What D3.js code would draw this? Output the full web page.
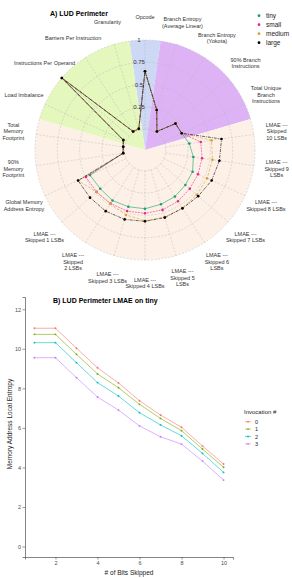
<!DOCTYPE html>
<html>
<head>
<meta charset="utf-8">
<script src="https://cdn.jsdelivr.net/npm/d3@7"></script>
<style>
  body { margin: 0; background: #fff; }
  svg { display: block; font-family: "Liberation Sans", Arial, sans-serif; }
</style>
</head>
<body>
<script>
/////////////////////////////// data: A) radar
const axes = [
  "Opcode", "Branch Entropy\n(Average Linear)", "Branch Entropy\n(Yokota)",
  "90% Branch\nInstructions", "Total Unique\nBranch\nInstructions",
  "LMAE ---\nSkipped\n10 LSBs", "LMAE ---\nSkipped 9\nLSBs", "LMAE ---\nSkipped 8 LSBs",
  "LMAE ---\nSkipped 7 LSBs", "LMAE ---\nSkipped 6\nLSBs", "LMAE ---\nSkipped 5\nLSBs",
  "LMAE ---\nSkipped 4 LSBs", "LMAE ---\nSkipped 3 LSBs", "LMAE ---\nSkipped\n2 LSBs",
  "LMAE ---\nSkipped 1 LSBs", "Global Memory\nAddress Entropy", "90%\nMemory\nFootprint",
  "Total\nMemory\nFootprint", "Load Imbalance", "Instructions Per Operand",
  "Barriers Per Instruction", "Granularity"
];
// which coloured sector each axis belongs to
const axisGroup = [
  "compute", "control", "control", "control", "control",
  "memory", "memory", "memory", "memory", "memory", "memory", "memory", "memory",
  "memory", "memory", "memory", "memory", "memory",
  "parallelism", "parallelism", "parallelism", "parallelism"
];
const sizes = ["tiny", "small", "medium", "large"];
const tiny = [0.65, 0.235, 0.015, 0.22, 0.22,
  0.27, 0.315, 0.354, 0.366, 0.388, 0.402, 0.426, 0.43, 0.441, 0.431, 0.445,
  0.015, 0.015, 0.035, 1.0, 0.015, 0.015];
const small = [0.65, 0.235, 0.015, 0.22, 0.22,
  0.399, 0.414, 0.421, 0.431, 0.451, 0.467, 0.477, 0.481, 0.48, 0.485, 0.496,
  0.015, 0.015, 0.035, 1.0, 0.015, 0.015];
const medium = [0.65, 0.235, 0.015, 0.22, 0.22,
  0.522, 0.531, 0.533, 0.535, 0.54, 0.55, 0.56, 0.526, 0.485, 0.487, 0.59,
  0.015, 0.015, 0.035, 1.0, 0.015, 0.015];
const large = [0.65, 0.235, 0.015, 0.22, 0.22,
  0.634, 0.61, 0.589, 0.557, 0.545, 0.557, 0.567, 0.578, 0.582, 0.583, 0.592,
  0.015, 0.015, 0.035, 1.0, 0.015, 0.015];
const radialTicks = [0.25, 0.5, 0.75, 1];

/////////////////////////////// data: B) LMAE lines
const bitsSkipped = [1, 2, 3, 4, 5, 6, 7, 8, 9, 10];
const invocations = ["0", "1", "2", "3"];
const inv0 = [11.04, 11.04, 10.03, 9.04, 8.27, 7.37, 6.65, 6.03, 5.08, 4.17];
const inv1 = [10.73, 10.73, 9.72, 8.73, 8.03, 7.19, 6.48, 5.86, 4.93, 4.01];
const inv2 = [10.31, 10.31, 9.30, 8.29, 7.61, 6.77, 6.15, 5.60, 4.71, 3.75];
const inv3 = [9.55, 9.55, 8.54, 7.56, 6.90, 6.10, 5.55, 5.18, 4.32, 3.36];
const xTicks = [2, 4, 6, 8, 10];
const yTicks = [0, 2, 4, 6, 8, 10, 12];

/////////////////////////////// svg
const svg = d3.select("body").append("svg").attr("width", 292).attr("height", 578);

/////////////////////////////// A) radar
const cx = 145, cy = 150, R = 110;
const n = axes.length;
const rScale = d3.scaleLinear().domain([0, 1]).range([20.7, R]);
const angle = d3.scaleLinear().domain([0, n]).range([0, 2 * Math.PI]);
const groupColor = { compute: "#cdd8f5", control: "#ddb3f6", memory: "#fdf1e7", parallelism: "#e4f7bd" };
const sizeColor = d3.scaleOrdinal().domain(sizes).range(["#1b9e77", "#e7298a", "#d9a13a", "#000000"]);
const sizeDash = { tiny: null, small: "2,1", medium: "3,1.5", large: "3,1,1,1" };

svg.append("text").attr("x", 50).attr("y", 15.5)
  .style("font-size", "7px").style("font-weight", "bold").text("A) LUD Perimeter");

const radar = svg.append("g").attr("transform", "translate(" + cx + "," + cy + ")");

// sectors: one arc per run of axes in the same group
const runs = [];
axisGroup.forEach((g, i) => {
  if (runs.length && runs[runs.length - 1].group === g) runs[runs.length - 1].end = i;
  else runs.push({ group: g, start: i, end: i });
});
const arc = d3.arc().innerRadius(0).outerRadius(R);
radar.selectAll(".sector").data(runs).enter().append("path")
  .attr("class", "sector")
  .attr("d", (d) => arc({ startAngle: angle(d.start - 0.5), endAngle: angle(d.end + 0.5) }))
  .attr("fill", (d) => groupColor[d.group]);

// grid
radar.selectAll(".ring").data([0].concat(radialTicks)).enter().append("circle")
  .attr("r", (d) => rScale(d)).attr("fill", "none")
  .attr("stroke", "#b5b5b5").attr("stroke-width", 0.45).attr("stroke-dasharray", "2,1.5");
radar.selectAll(".spoke").data(axes).enter().append("line")
  .attr("x1", (d, i) => rScale(0) * Math.sin(angle(i)))
  .attr("y1", (d, i) => -rScale(0) * Math.cos(angle(i)))
  .attr("x2", (d, i) => R * Math.sin(angle(i)))
  .attr("y2", (d, i) => -R * Math.cos(angle(i)))
  .attr("stroke", "#b5b5b5").attr("stroke-width", 0.45).attr("stroke-dasharray", "2,1.5");

// radial tick labels
radar.selectAll(".rtick").data(radialTicks).enter().append("text")
  .attr("x", -6).attr("y", (d) => -rScale(d) + 2)
  .attr("text-anchor", "middle").style("font-size", "6px").attr("fill", "#333")
  .text((d) => d);

// axis labels
const lab = radar.selectAll(".axlab").data(axes).enter().append("text")
  .attr("text-anchor", "middle").style("font-size", "5.5px").attr("fill", "#333")
  .attr("transform", (d, i) => {
    const lines = d.split("\n").length;
    const x = 133 * Math.sin(angle(i));
    const y = -133 * Math.cos(angle(i)) - (lines - 1) * 3.25 + 2;
    return "translate(" + x + "," + y + ")";
  });
lab.each(function (d) {
  d3.select(this).selectAll("tspan").data(d.split("\n")).enter().append("tspan")
    .attr("x", 0).attr("dy", (t, j) => (j === 0 ? 0 : 6.5)).text((t) => t);
});

// series
const series = [tiny, small, medium, large];
const radialLine = d3.lineRadial()
  .angle((d, i) => angle(i)).radius((d) => rScale(d)).curve(d3.curveLinearClosed);
series.forEach((vals, k) => {
  const s = sizes[k];
  radar.append("path").datum(vals).attr("d", radialLine)
    .attr("fill", "none").attr("stroke", sizeColor(s)).attr("stroke-width", 0.6)
    .attr("stroke-dasharray", sizeDash[s]);
  radar.selectAll(".pt-" + s).data(vals).enter().append("circle")
    .attr("cx", (d, i) => rScale(d) * Math.sin(angle(i)))
    .attr("cy", (d, i) => -rScale(d) * Math.cos(angle(i)))
    .attr("r", 1.3).attr("fill", sizeColor(s));
});

// legend A
const legA = svg.append("g").attr("transform", "translate(259,15.7)");
sizes.forEach((s, i) => {
  legA.append("circle").attr("cx", 0).attr("cy", i * 9).attr("r", 1.4).attr("fill", sizeColor(s));
  legA.append("text").attr("x", 7).attr("y", i * 9 + 2.2)
    .style("font-size", "6.5px").attr("fill", "#222").text(s);
});

/////////////////////////////// B) line chart
svg.append("text").attr("x", 53).attr("y", 302.5)
  .style("font-size", "7px").style("font-weight", "bold").text("B) LUD Perimeter LMAE on tiny");

const x = d3.scaleLinear().domain([0.55, 10.45]).range([25, 233]);
const y = d3.scaleLinear().domain([-0.53, 12.62]).range([557, 297]);
const invColor = d3.scaleOrdinal().domain(invocations).range(["#F8766D", "#7CAE00", "#00BFC4", "#C77CFF"]);

const gx = svg.append("g").attr("transform", "translate(0,557)")
  .call(d3.axisBottom(x).tickValues(xTicks).tickSize(2.5).tickPadding(1.5));
const gy = svg.append("g").attr("transform", "translate(25,0)")
  .call(d3.axisLeft(y).tickValues(yTicks).tickSize(2.5).tickPadding(1.5));
[gx, gy].forEach((g) => {
  g.select(".domain").attr("stroke", "#333").attr("stroke-width", 0.6);
  g.selectAll(".tick line").attr("stroke", "#333").attr("stroke-width", 0.5);
  g.selectAll(".tick text").attr("fill", "#4d4d4d").style("font-size", "5.5px")
    .style("font-family", "Liberation Sans, Arial, sans-serif");
});

svg.append("text").attr("x", 129).attr("y", 575).attr("text-anchor", "middle")
  .style("font-size", "6.5px").attr("fill", "#222").text("# of Bits Skipped");
svg.append("text").attr("transform", "translate(12,424) rotate(-90)").attr("text-anchor", "middle")
  .style("font-size", "6.5px").attr("fill", "#222").text("Memory Address Local Entropy");

const line = d3.line().x((d, i) => x(bitsSkipped[i])).y((d) => y(d));
[inv0, inv1, inv2, inv3].forEach((vals, k) => {
  const c = invColor(invocations[k]);
  svg.append("path").datum(vals).attr("d", line)
    .attr("fill", "none").attr("stroke", c).attr("stroke-width", 0.6);
  svg.selectAll(".inv" + k).data(vals).enter().append("circle")
    .attr("cx", (d, i) => x(bitsSkipped[i])).attr("cy", (d) => y(d))
    .attr("r", 0.95).attr("fill", c);
});

// legend B
svg.append("text").attr("x", 244).attr("y", 414)
  .style("font-size", "6px").attr("fill", "#222").text("Invocation #");
invocations.forEach((v, i) => {
  const yy = 421.7 + i * 7.4;
  svg.append("line").attr("x1", 245).attr("x2", 251).attr("y1", yy).attr("y2", yy)
    .attr("stroke", invColor(v)).attr("stroke-width", 0.6);
  svg.append("circle").attr("cx", 248).attr("cy", yy).attr("r", 0.95).attr("fill", invColor(v));
  svg.append("text").attr("x", 255).attr("y", yy + 2)
    .style("font-size", "5.5px").attr("fill", "#222").text(v);
});
</script>
</body>
</html>
